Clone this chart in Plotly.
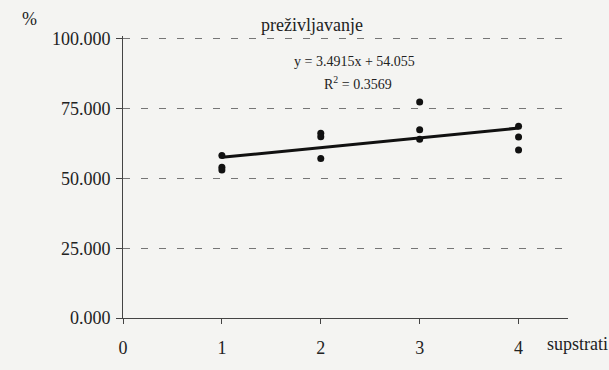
import plotly.graph_objects as go

# data
x_vals = [1, 1, 1, 2, 2, 2, 3, 3, 3, 4, 4, 4]
y_vals = [58.2, 54.0, 53.0, 66.2, 64.9, 57.1, 77.4, 67.4, 64.0, 68.7, 64.8, 60.2]
slope = 3.4915
intercept = 54.055
r2 = 0.3569
trend_x = [1, 4]
y_ticks = [0, 25, 50, 75, 100]
y_tick_labels = ["0.000", "25.000", "50.000", "75.000", "100.000"]
x_ticks = [0, 1, 2, 3, 4]
title_text = "preživljavanje"
x_title = "supstrati"
y_title = "%"

trend_y = [slope * v + intercept for v in trend_x]

FONT = "'Liberation Serif', 'Times New Roman', serif"
BG = "#f4f4f2"
TXT = "#222222"
AX = "#444444"

W, H = 609, 370
L, R, T, B = 123, 41, 36, 36
pw, ph = W - L - R, H - T - B


def px(xp):
    return (xp - L) / pw


def py(yp):
    return (H - B - yp) / ph


fig = go.Figure()
fig.add_trace(go.Scatter(x=trend_x, y=trend_y, mode="lines",
                         line=dict(color="#111111", width=3), hoverinfo="skip"))
fig.add_trace(go.Scatter(x=x_vals, y=y_vals, mode="markers",
                         marker=dict(color="#111111", size=7)))

fig.update_layout(
    width=W, height=H,
    margin=dict(l=L, r=R, t=T, b=B),
    paper_bgcolor=BG, plot_bgcolor=BG,
    showlegend=False,
    font=dict(family=FONT, size=18, color=TXT),
    xaxis=dict(range=[0, 4.5], tickvals=x_ticks, ticktext=[str(v) for v in x_ticks],
               showgrid=False, zeroline=False, showline=True, linecolor=AX,
               linewidth=1, ticks="outside", ticklen=5, tickcolor=AX,
               ticklabelstandoff=8, tickfont=dict(size=18, family=FONT, color=TXT)),
    yaxis=dict(range=[0, 101], tickvals=y_ticks, ticktext=y_tick_labels,
               showgrid=True, gridcolor="#767676", griddash="7px,11px", gridwidth=1,
               zeroline=False, showline=True, linecolor=AX, linewidth=1,
               ticks="outside", ticklen=6, tickcolor=AX,
               ticklabelstandoff=2, tickfont=dict(size=18, family=FONT, color=TXT)),
    yaxis2=dict(range=[0, 101], tickvals=y_ticks, showticklabels=False,
                overlaying="y", side="left", showgrid=False, zeroline=False,
                showline=False, ticks="inside", ticklen=6, tickcolor=AX),
)

fig.add_annotation(x=px(312), y=py(24), xref="paper", yref="paper", text=title_text,
                   showarrow=False, xanchor="center", yanchor="middle",
                   font=dict(size=18, family=FONT, color=TXT))
fig.add_annotation(x=px(354), y=py(63), xref="paper", yref="paper",
                   text=f"y = {slope}x + {intercept}",
                   showarrow=False, xanchor="center", yanchor="middle",
                   font=dict(size=14, family=FONT, color=TXT))
fig.add_annotation(x=px(358), y=py(86), xref="paper", yref="paper",
                   text=f"R<sup>2</sup> = {r2}",
                   showarrow=False, xanchor="center", yanchor="middle",
                   font=dict(size=14, family=FONT, color=TXT))
fig.add_annotation(x=px(545), y=py(362), xref="paper", yref="paper", text=x_title,
                   showarrow=False, xanchor="left", yanchor="middle",
                   font=dict(size=18, family=FONT, color=TXT))
fig.add_annotation(x=px(29), y=py(18), xref="paper", yref="paper", text=y_title,
                   showarrow=False, xanchor="center", yanchor="middle",
                   font=dict(size=18, family=FONT, color=TXT))

fig.write_html("out.html")
